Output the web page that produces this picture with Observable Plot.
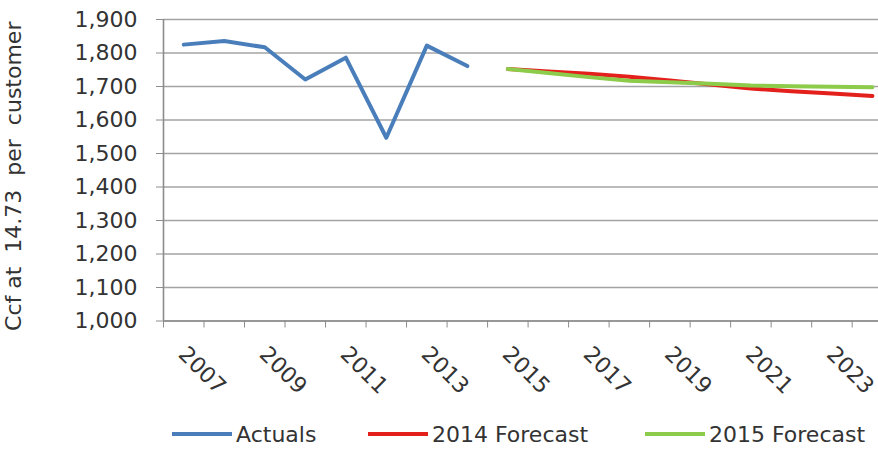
<!DOCTYPE html>
<html>
<head>
<meta charset="utf-8">
<script src="https://cdn.jsdelivr.net/npm/d3@7"></script>
<script src="https://cdn.jsdelivr.net/npm/@observablehq/plot@0.6"></script>
<style>
  html, body { margin: 0; padding: 0; background: #fff; overflow: hidden; }
  #chart { width: 878px; height: 453px; position: relative; font-family: "DejaVu Sans", sans-serif; color: #333; }
  #legend { position: relative; height: 38px; font-size: 22px; }
  .item { position: absolute; top: 0; height: 38px; display: flex; align-items: center; }
  .sw { width: 60px; height: 4px; margin-right: 4px; }
</style>
</head>
<body>
<div id="chart"></div>
<script>
const years = [2007, 2008, 2009, 2010, 2011, 2012, 2013, 2014, 2015, 2016, 2017, 2018, 2019, 2020, 2021, 2022, 2023, 2024];
const labelYears = [2007, 2009, 2011, 2013, 2015, 2017, 2019, 2021, 2023];
const yTicks = [1000, 1100, 1200, 1300, 1400, 1500, 1600, 1700, 1800, 1900];

const actualYears = [2007, 2008, 2009, 2010, 2011, 2012, 2013, 2014];
const actuals = [1825, 1836, 1817, 1721, 1786, 1547, 1822, 1761];

const forecastYears = [2015, 2016, 2017, 2018, 2019, 2020, 2021, 2022, 2023, 2024];
const forecast2014 = [1752, 1745, 1738, 1729, 1718, 1706, 1694, 1686, 1679, 1672];
const forecast2015 = [1752, 1740, 1728, 1717, 1713, 1708, 1703, 1701, 1699, 1698];

const seriesNames = ["Actuals", "2014 Forecast", "2015 Forecast"];
const seriesColors = ["#4a7ebb", "#e3201b", "#8dcb4a"];
const yTitle = "Ccf at\u00a0\u00a014.73\u00a0\u00a0per\u00a0\u00a0customer";

const actualData = actualYears.map((x, i) => ({x, y: actuals[i]}));
const f14 = forecastYears.map((x, i) => ({x, y: forecast2014[i]}));
const f15 = forecastYears.map((x, i) => ({x, y: forecast2015[i]}));
const boundaries = years.map(y => y - 0.5);

const axisColor = "#8c8c8c";
const gridColor = "#a3a3a3";

const plot = Plot.plot({
  width: 878,
  height: 415,
  marginLeft: 163,
  marginRight: 0,
  marginTop: 19,
  marginBottom: 94.5,
  style: {fontFamily: "DejaVu Sans, sans-serif", fontSize: "22px", color: "#333", background: "transparent"},
  x: {domain: [2006.5, 2024.15]},
  y: {domain: [1000, 1900]},
  marks: [
    Plot.gridY(yTicks, {stroke: gridColor, strokeOpacity: 1, strokeWidth: 1.6}),
    Plot.axisY(yTicks, {tickFormat: d3.format(","), tickSize: 7, tickPadding: 19, stroke: axisColor, label: null}),
    Plot.text([yTitle], {frameAnchor: "left", rotate: -90, dx: -158, dy: 6, lineAnchor: "top", textAnchor: "middle", fill: "#333", fontSize: 22}),
    Plot.ruleX([2006.5], {stroke: axisColor, strokeWidth: 1.6}),
    Plot.ruleY([1000], {stroke: axisColor, strokeWidth: 1.6}),
    Plot.axisX(boundaries, {tickSize: 7, tickFormat: () => "", stroke: axisColor, label: null}),
    Plot.axisX(labelYears, {tickSize: 0, tickPadding: 29.5, tickRotate: 45, dx: -1.5, tickFormat: d => String(d), label: null}),
    Plot.line(actualData, {x: "x", y: "y", stroke: seriesColors[0], strokeWidth: 4}),
    Plot.line(f14, {x: "x", y: "y", stroke: seriesColors[1], strokeWidth: 4}),
    Plot.line(f15, {x: "x", y: "y", stroke: seriesColors[2], strokeWidth: 4})
  ]
});

const chart = document.getElementById("chart");
chart.appendChild(plot);

const legend = document.createElement("div");
legend.id = "legend";
const lefts = [172, 368, 645];
seriesNames.forEach((name, i) => {
  const item = document.createElement("div");
  item.className = "item";
  item.style.left = lefts[i] + "px";
  const sw = document.createElement("span");
  sw.className = "sw";
  sw.style.background = seriesColors[i];
  const t = document.createElement("span");
  t.textContent = name;
  item.appendChild(sw);
  item.appendChild(t);
  legend.appendChild(item);
});
chart.appendChild(legend);
</script>
</body>
</html>
